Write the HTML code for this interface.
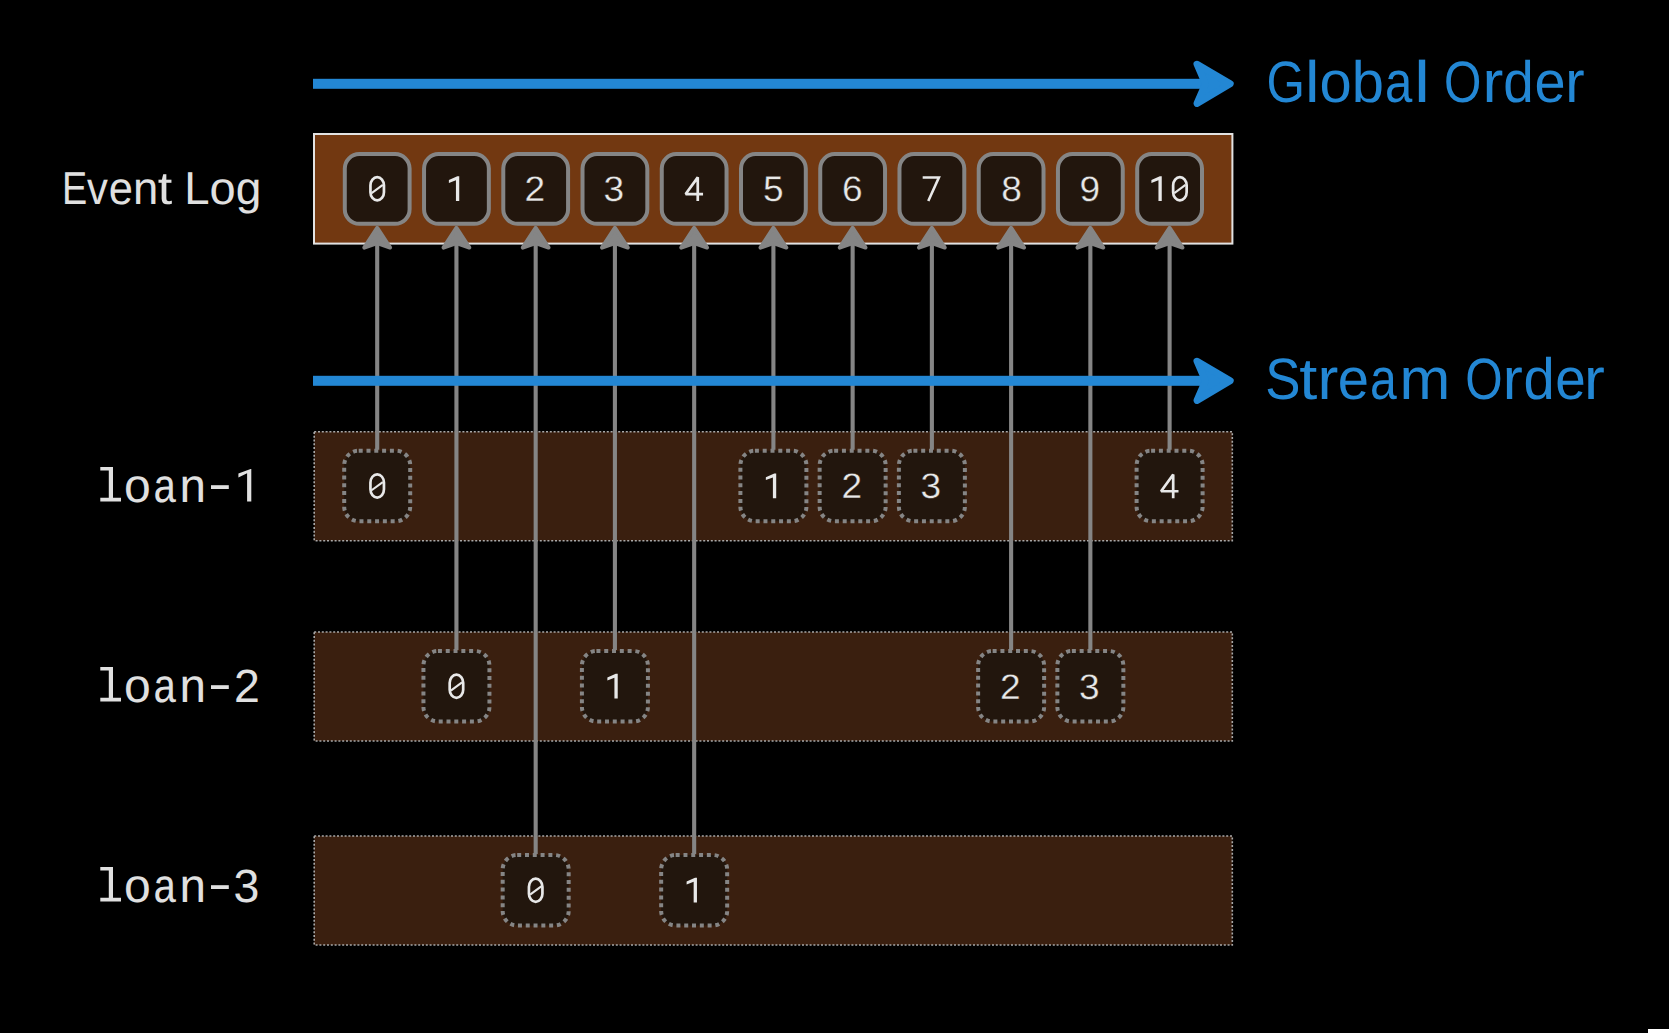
<!DOCTYPE html>
<html><head><meta charset="utf-8"><style>
html,body{margin:0;padding:0;background:#000;width:1669px;height:1033px;overflow:hidden}
svg{display:block}
text{text-rendering:geometricPrecision}
</style></head><body>
<svg width="1669" height="1033" viewBox="0 0 1669 1033">
<rect x="0" y="0" width="1669" height="1033" fill="#000"/>
<rect x="314.2" y="431.7" width="918.1" height="109" fill="#3a1f0f" stroke="#a8a8a8" stroke-width="1.6" stroke-dasharray="2 1.8"/>
<rect x="314.2" y="632.0" width="918.1" height="109" fill="#3a1f0f" stroke="#a8a8a8" stroke-width="1.6" stroke-dasharray="2 1.8"/>
<rect x="314.2" y="836.0" width="918.1" height="109" fill="#3a1f0f" stroke="#a8a8a8" stroke-width="1.6" stroke-dasharray="2 1.8"/>
<rect x="314" y="134" width="918.4" height="109.6" fill="#723811" stroke="#e2e2e2" stroke-width="2"/>
<rect x="344.80" y="154.10" width="64.80" height="69.7" rx="14.5" ry="14.5" fill="#22160d" stroke="#858585" stroke-width="4"/>
<rect x="424.04" y="154.10" width="64.80" height="69.7" rx="14.5" ry="14.5" fill="#22160d" stroke="#858585" stroke-width="4"/>
<rect x="503.28" y="154.10" width="64.80" height="69.7" rx="14.5" ry="14.5" fill="#22160d" stroke="#858585" stroke-width="4"/>
<rect x="582.52" y="154.10" width="64.80" height="69.7" rx="14.5" ry="14.5" fill="#22160d" stroke="#858585" stroke-width="4"/>
<rect x="661.76" y="154.10" width="64.80" height="69.7" rx="14.5" ry="14.5" fill="#22160d" stroke="#858585" stroke-width="4"/>
<rect x="741.00" y="154.10" width="64.80" height="69.7" rx="14.5" ry="14.5" fill="#22160d" stroke="#858585" stroke-width="4"/>
<rect x="820.24" y="154.10" width="64.80" height="69.7" rx="14.5" ry="14.5" fill="#22160d" stroke="#858585" stroke-width="4"/>
<rect x="899.48" y="154.10" width="64.80" height="69.7" rx="14.5" ry="14.5" fill="#22160d" stroke="#858585" stroke-width="4"/>
<rect x="978.72" y="154.10" width="64.80" height="69.7" rx="14.5" ry="14.5" fill="#22160d" stroke="#858585" stroke-width="4"/>
<rect x="1057.96" y="154.10" width="64.80" height="69.7" rx="14.5" ry="14.5" fill="#22160d" stroke="#858585" stroke-width="4"/>
<rect x="1137.20" y="154.10" width="64.80" height="69.7" rx="14.5" ry="14.5" fill="#22160d" stroke="#858585" stroke-width="4"/>
<rect x="344.20" y="450.70" width="66" height="70.5" rx="14.5" ry="14.5" fill="#22160d" stroke="#858585" stroke-width="4" stroke-dasharray="4 3.8"/>
<rect x="423.44" y="651.00" width="66" height="70.5" rx="14.5" ry="14.5" fill="#22160d" stroke="#858585" stroke-width="4" stroke-dasharray="4 3.8"/>
<rect x="502.68" y="855.00" width="66" height="70.5" rx="14.5" ry="14.5" fill="#22160d" stroke="#858585" stroke-width="4" stroke-dasharray="4 3.8"/>
<rect x="581.92" y="651.00" width="66" height="70.5" rx="14.5" ry="14.5" fill="#22160d" stroke="#858585" stroke-width="4" stroke-dasharray="4 3.8"/>
<rect x="661.16" y="855.00" width="66" height="70.5" rx="14.5" ry="14.5" fill="#22160d" stroke="#858585" stroke-width="4" stroke-dasharray="4 3.8"/>
<rect x="740.40" y="450.70" width="66" height="70.5" rx="14.5" ry="14.5" fill="#22160d" stroke="#858585" stroke-width="4" stroke-dasharray="4 3.8"/>
<rect x="819.64" y="450.70" width="66" height="70.5" rx="14.5" ry="14.5" fill="#22160d" stroke="#858585" stroke-width="4" stroke-dasharray="4 3.8"/>
<rect x="898.88" y="450.70" width="66" height="70.5" rx="14.5" ry="14.5" fill="#22160d" stroke="#858585" stroke-width="4" stroke-dasharray="4 3.8"/>
<rect x="978.12" y="651.00" width="66" height="70.5" rx="14.5" ry="14.5" fill="#22160d" stroke="#858585" stroke-width="4" stroke-dasharray="4 3.8"/>
<rect x="1057.36" y="651.00" width="66" height="70.5" rx="14.5" ry="14.5" fill="#22160d" stroke="#858585" stroke-width="4" stroke-dasharray="4 3.8"/>
<rect x="1136.60" y="450.70" width="66" height="70.5" rx="14.5" ry="14.5" fill="#22160d" stroke="#858585" stroke-width="4" stroke-dasharray="4 3.8"/>
<line x1="377.20" y1="449.7" x2="377.20" y2="243" stroke="#858585" stroke-width="4.1"/>
<path d="M377.20 227.9 L390.10 247.6 L377.20 243.2 L364.30 247.6 Z" fill="#858585" stroke="#858585" stroke-width="4" stroke-linejoin="round"/>
<line x1="456.44" y1="650.0" x2="456.44" y2="243" stroke="#858585" stroke-width="4.1"/>
<path d="M456.44 227.9 L469.34 247.6 L456.44 243.2 L443.54 247.6 Z" fill="#858585" stroke="#858585" stroke-width="4" stroke-linejoin="round"/>
<line x1="535.68" y1="854.0" x2="535.68" y2="243" stroke="#858585" stroke-width="4.1"/>
<path d="M535.68 227.9 L548.58 247.6 L535.68 243.2 L522.78 247.6 Z" fill="#858585" stroke="#858585" stroke-width="4" stroke-linejoin="round"/>
<line x1="614.92" y1="650.0" x2="614.92" y2="243" stroke="#858585" stroke-width="4.1"/>
<path d="M614.92 227.9 L627.82 247.6 L614.92 243.2 L602.02 247.6 Z" fill="#858585" stroke="#858585" stroke-width="4" stroke-linejoin="round"/>
<line x1="694.16" y1="854.0" x2="694.16" y2="243" stroke="#858585" stroke-width="4.1"/>
<path d="M694.16 227.9 L707.06 247.6 L694.16 243.2 L681.26 247.6 Z" fill="#858585" stroke="#858585" stroke-width="4" stroke-linejoin="round"/>
<line x1="773.40" y1="449.7" x2="773.40" y2="243" stroke="#858585" stroke-width="4.1"/>
<path d="M773.40 227.9 L786.30 247.6 L773.40 243.2 L760.50 247.6 Z" fill="#858585" stroke="#858585" stroke-width="4" stroke-linejoin="round"/>
<line x1="852.64" y1="449.7" x2="852.64" y2="243" stroke="#858585" stroke-width="4.1"/>
<path d="M852.64 227.9 L865.54 247.6 L852.64 243.2 L839.74 247.6 Z" fill="#858585" stroke="#858585" stroke-width="4" stroke-linejoin="round"/>
<line x1="931.88" y1="449.7" x2="931.88" y2="243" stroke="#858585" stroke-width="4.1"/>
<path d="M931.88 227.9 L944.78 247.6 L931.88 243.2 L918.98 247.6 Z" fill="#858585" stroke="#858585" stroke-width="4" stroke-linejoin="round"/>
<line x1="1011.12" y1="650.0" x2="1011.12" y2="243" stroke="#858585" stroke-width="4.1"/>
<path d="M1011.12 227.9 L1024.02 247.6 L1011.12 243.2 L998.22 247.6 Z" fill="#858585" stroke="#858585" stroke-width="4" stroke-linejoin="round"/>
<line x1="1090.36" y1="650.0" x2="1090.36" y2="243" stroke="#858585" stroke-width="4.1"/>
<path d="M1090.36 227.9 L1103.26 247.6 L1090.36 243.2 L1077.46 247.6 Z" fill="#858585" stroke="#858585" stroke-width="4" stroke-linejoin="round"/>
<line x1="1169.60" y1="449.7" x2="1169.60" y2="243" stroke="#858585" stroke-width="4.1"/>
<path d="M1169.60 227.9 L1182.50 247.6 L1169.60 243.2 L1156.70 247.6 Z" fill="#858585" stroke="#858585" stroke-width="4" stroke-linejoin="round"/>
<rect x="313" y="78.8" width="895" height="10" fill="#2387d4"/>
<path d="M1197 64.2 L1230.2 83.8 L1197 103.4 L1205.5 83.8 Z" fill="#2387d4" stroke="#2387d4" stroke-width="7" stroke-linejoin="round"/>
<rect x="313" y="375.8" width="895" height="10" fill="#2387d4"/>
<path d="M1197 361.2 L1230.2 380.8 L1197 400.4 L1205.5 380.8 Z" fill="#2387d4" stroke="#2387d4" stroke-width="7" stroke-linejoin="round"/>
<text transform="translate(1266.40,102.2) scale(0.8240,0.975)" x="0" y="0" style="font-family:'Liberation Sans',sans-serif" font-size="60" fill="#2387d4">G</text>
<text transform="translate(1305.00,102.2) scale(1.0882,0.975)" x="0" y="0" style="font-family:'Liberation Sans',sans-serif" font-size="60" fill="#2387d4">l</text>
<text transform="translate(1319.42,102.2) scale(0.9655,0.975)" x="0" y="0" style="font-family:'Liberation Sans',sans-serif" font-size="60" fill="#2387d4">o</text>
<text transform="translate(1351.84,102.2) scale(0.9646,0.975)" x="0" y="0" style="font-family:'Liberation Sans',sans-serif" font-size="60" fill="#2387d4">b</text>
<text transform="translate(1384.94,102.2) scale(0.8182,0.975)" x="0" y="0" style="font-family:'Liberation Sans',sans-serif" font-size="60" fill="#2387d4">a</text>
<text transform="translate(1413.95,102.2) scale(1.2008,0.975)" x="0" y="0" style="font-family:'Liberation Sans',sans-serif" font-size="60" fill="#2387d4">l</text>
<text transform="translate(1443.94,102.2) scale(0.8004,0.975)" x="0" y="0" style="font-family:'Liberation Sans',sans-serif" font-size="60" fill="#2387d4">O</text>
<text transform="translate(1482.41,102.2) scale(1.0421,0.975)" x="0" y="0" style="font-family:'Liberation Sans',sans-serif" font-size="60" fill="#2387d4">r</text>
<text transform="translate(1503.24,102.2) scale(0.9135,0.975)" x="0" y="0" style="font-family:'Liberation Sans',sans-serif" font-size="60" fill="#2387d4">d</text>
<text transform="translate(1534.46,102.2) scale(0.9316,0.975)" x="0" y="0" style="font-family:'Liberation Sans',sans-serif" font-size="60" fill="#2387d4">e</text>
<text transform="translate(1565.21,102.2) scale(0.9686,0.975)" x="0" y="0" style="font-family:'Liberation Sans',sans-serif" font-size="60" fill="#2387d4">r</text>
<text transform="translate(1265.16,399.2) scale(0.8805,0.975)" x="0" y="0" style="font-family:'Liberation Sans',sans-serif" font-size="60" fill="#2387d4">S</text>
<text transform="translate(1299.27,399.2) scale(1.0823,0.975)" x="0" y="0" style="font-family:'Liberation Sans',sans-serif" font-size="60" fill="#2387d4">t</text>
<text transform="translate(1317.61,399.2) scale(1.0421,0.975)" x="0" y="0" style="font-family:'Liberation Sans',sans-serif" font-size="60" fill="#2387d4">r</text>
<text transform="translate(1337.75,399.2) scale(0.9352,0.975)" x="0" y="0" style="font-family:'Liberation Sans',sans-serif" font-size="60" fill="#2387d4">e</text>
<text transform="translate(1369.88,399.2) scale(0.8021,0.975)" x="0" y="0" style="font-family:'Liberation Sans',sans-serif" font-size="60" fill="#2387d4">a</text>
<text transform="translate(1399.58,399.2) scale(1.0167,0.975)" x="0" y="0" style="font-family:'Liberation Sans',sans-serif" font-size="60" fill="#2387d4">m</text>
<text transform="translate(1465.24,399.2) scale(0.8004,0.975)" x="0" y="0" style="font-family:'Liberation Sans',sans-serif" font-size="60" fill="#2387d4">O</text>
<text transform="translate(1502.87,399.2) scale(1.0020,0.975)" x="0" y="0" style="font-family:'Liberation Sans',sans-serif" font-size="60" fill="#2387d4">r</text>
<text transform="translate(1523.39,399.2) scale(0.9357,0.975)" x="0" y="0" style="font-family:'Liberation Sans',sans-serif" font-size="60" fill="#2387d4">d</text>
<text transform="translate(1555.31,399.2) scale(0.9139,0.975)" x="0" y="0" style="font-family:'Liberation Sans',sans-serif" font-size="60" fill="#2387d4">e</text>
<text transform="translate(1584.11,399.2) scale(1.0421,0.975)" x="0" y="0" style="font-family:'Liberation Sans',sans-serif" font-size="60" fill="#2387d4">r</text>
<text transform="translate(61.94,204.2) scale(0.8214,1.0)" x="0" y="0" style="font-family:'Liberation Sans',sans-serif" font-size="46" fill="#e0e0e0">E</text>
<text transform="translate(86.93,204.2) scale(0.9066,1.0)" x="0" y="0" style="font-family:'Liberation Sans',sans-serif" font-size="46" fill="#e0e0e0">v</text>
<text transform="translate(108.86,204.2) scale(0.9450,1.0)" x="0" y="0" style="font-family:'Liberation Sans',sans-serif" font-size="46" fill="#e0e0e0">e</text>
<text transform="translate(132.95,204.2) scale(0.9871,1.0)" x="0" y="0" style="font-family:'Liberation Sans',sans-serif" font-size="46" fill="#e0e0e0">n</text>
<text transform="translate(157.66,204.2) scale(1.1316,1.0)" x="0" y="0" style="font-family:'Liberation Sans',sans-serif" font-size="46" fill="#e0e0e0">t</text>
<text transform="translate(184.33,204.2) scale(0.9878,1.0)" x="0" y="0" style="font-family:'Liberation Sans',sans-serif" font-size="46" fill="#e0e0e0">L</text>
<text transform="translate(209.53,204.2) scale(1.0219,1.0)" x="0" y="0" style="font-family:'Liberation Sans',sans-serif" font-size="46" fill="#e0e0e0">o</text>
<text transform="translate(235.86,204.2) scale(1.0024,1.0)" x="0" y="0" style="font-family:'Liberation Sans',sans-serif" font-size="46" fill="#e0e0e0">g</text>
<path d="M100.3 467.10 L113.0 467.10 L113.0 497.80 L121.0 497.80 L121.0 501.60 L100.3 501.60 L100.3 497.80 L108.8 497.80 L108.8 470.60 L100.3 470.60 Z" fill="#e0e0e0"/>
<text transform="translate(137.45,501.60) scale(1.0,1)" x="0" y="0" style="font-family:'Liberation Mono',monospace" font-size="48" fill="#e0e0e0" text-anchor="middle">o</text>
<text transform="translate(164.95,501.60) scale(0.85,1)" x="0" y="0" style="font-family:'Liberation Mono',monospace" font-size="48" fill="#e0e0e0" text-anchor="middle">a</text>
<text transform="translate(192.70,501.60) scale(0.99,1)" x="0" y="0" style="font-family:'Liberation Mono',monospace" font-size="48" fill="#e0e0e0" text-anchor="middle">n</text>
<rect x="211.0" y="485.20" width="17.8" height="3.8" fill="#e0e0e0"/>
<path d="M251.3 468.90 L251.3 501.60 L247.1 501.60 L247.1 473.30 L238.4 477.40 L238.4 473.40 L250.6 468.90 Z" fill="#e0e0e0"/>
<path d="M100.3 667.10 L113.0 667.10 L113.0 697.80 L121.0 697.80 L121.0 701.60 L100.3 701.60 L100.3 697.80 L108.8 697.80 L108.8 670.60 L100.3 670.60 Z" fill="#e0e0e0"/>
<text transform="translate(137.45,701.60) scale(1.0,1)" x="0" y="0" style="font-family:'Liberation Mono',monospace" font-size="48" fill="#e0e0e0" text-anchor="middle">o</text>
<text transform="translate(164.95,701.60) scale(0.85,1)" x="0" y="0" style="font-family:'Liberation Mono',monospace" font-size="48" fill="#e0e0e0" text-anchor="middle">a</text>
<text transform="translate(192.70,701.60) scale(0.99,1)" x="0" y="0" style="font-family:'Liberation Mono',monospace" font-size="48" fill="#e0e0e0" text-anchor="middle">n</text>
<rect x="211.0" y="685.20" width="17.8" height="3.8" fill="#e0e0e0"/>
<text transform="translate(246.95,701.60) scale(1.0,1.0)" x="0" y="0" style="font-family:'Liberation Sans',sans-serif" font-size="46.5" fill="#e0e0e0" text-anchor="middle">2</text>
<path d="M100.3 867.10 L113.0 867.10 L113.0 897.80 L121.0 897.80 L121.0 901.60 L100.3 901.60 L100.3 897.80 L108.8 897.80 L108.8 870.60 L100.3 870.60 Z" fill="#e0e0e0"/>
<text transform="translate(137.45,901.60) scale(1.0,1)" x="0" y="0" style="font-family:'Liberation Mono',monospace" font-size="48" fill="#e0e0e0" text-anchor="middle">o</text>
<text transform="translate(164.95,901.60) scale(0.85,1)" x="0" y="0" style="font-family:'Liberation Mono',monospace" font-size="48" fill="#e0e0e0" text-anchor="middle">a</text>
<text transform="translate(192.70,901.60) scale(0.99,1)" x="0" y="0" style="font-family:'Liberation Mono',monospace" font-size="48" fill="#e0e0e0" text-anchor="middle">n</text>
<rect x="211.0" y="885.20" width="17.8" height="3.8" fill="#e0e0e0"/>
<text transform="translate(246.45,901.60) scale(1.0,1.0)" x="0" y="0" style="font-family:'Liberation Sans',sans-serif" font-size="46.5" fill="#e0e0e0" text-anchor="middle">3</text>
<path d="M370.45 185.35 A6.75 8.2 0 0 1 383.95 185.35 L383.95 192.15 A6.75 8.2 0 0 1 370.45 192.15 Z" fill="none" stroke="#e8e8e8" stroke-width="2.7"/>
<line x1="371.60" y1="193.05" x2="382.80" y2="184.85" stroke="#e8e8e8" stroke-width="2.1"/>
<path d="M459.24 176.30 L459.24 201.05 L455.94 201.05 L455.94 180.35 L448.89 182.90 L448.89 180.00 L457.29 176.30 Z" fill="#e8e8e8"/>
<text transform="translate(534.83,201.05) scale(1.03,0.985)" x="0" y="0" style="font-family:'Liberation Sans',sans-serif" font-size="36" fill="#e8e8e8" stroke="#22160d" stroke-width="0.35" text-anchor="middle">2</text>
<text transform="translate(613.82,201.05) scale(1.03,0.985)" x="0" y="0" style="font-family:'Liberation Sans',sans-serif" font-size="36" fill="#e8e8e8" stroke="#22160d" stroke-width="0.35" text-anchor="middle">3</text>
<path d="M697.76 201.05 L697.76 177.35 L685.66 194.05 L703.06 194.05" fill="none" stroke="#e8e8e8" stroke-width="2.7" stroke-linejoin="bevel"/>
<text transform="translate(773.30,201.05) scale(1.03,0.985)" x="0" y="0" style="font-family:'Liberation Sans',sans-serif" font-size="36" fill="#e8e8e8" stroke="#22160d" stroke-width="0.35" text-anchor="middle">5</text>
<text transform="translate(852.34,201.05) scale(1.03,0.985)" x="0" y="0" style="font-family:'Liberation Sans',sans-serif" font-size="36" fill="#e8e8e8" stroke="#22160d" stroke-width="0.35" text-anchor="middle">6</text>
<path d="M922.68 177.45 L938.88 177.45 L928.28 201.05" fill="none" stroke="#e8e8e8" stroke-width="2.6" stroke-linejoin="miter"/>
<text transform="translate(1011.47,201.05) scale(1.03,0.985)" x="0" y="0" style="font-family:'Liberation Sans',sans-serif" font-size="36" fill="#e8e8e8" stroke="#22160d" stroke-width="0.35" text-anchor="middle">8</text>
<text transform="translate(1089.91,201.05) scale(1.03,0.985)" x="0" y="0" style="font-family:'Liberation Sans',sans-serif" font-size="36" fill="#e8e8e8" stroke="#22160d" stroke-width="0.35" text-anchor="middle">9</text>
<path d="M1161.75 176.30 L1161.75 201.05 L1158.45 201.05 L1158.45 180.35 L1151.40 182.90 L1151.40 180.00 L1159.80 176.30 Z" fill="#e8e8e8"/>
<path d="M1173.15 185.35 A6.75 8.2 0 0 1 1186.65 185.35 L1186.65 192.15 A6.75 8.2 0 0 1 1173.15 192.15 Z" fill="none" stroke="#e8e8e8" stroke-width="2.7"/>
<line x1="1174.30" y1="193.05" x2="1185.50" y2="184.85" stroke="#e8e8e8" stroke-width="2.1"/>
<path d="M370.45 482.55 A6.75 8.2 0 0 1 383.95 482.55 L383.95 489.35 A6.75 8.2 0 0 1 370.45 489.35 Z" fill="none" stroke="#e8e8e8" stroke-width="2.7"/>
<line x1="371.60" y1="490.25" x2="382.80" y2="482.05" stroke="#e8e8e8" stroke-width="2.1"/>
<path d="M449.69 682.85 A6.75 8.2 0 0 1 463.19 682.85 L463.19 689.65 A6.75 8.2 0 0 1 449.69 689.65 Z" fill="none" stroke="#e8e8e8" stroke-width="2.7"/>
<line x1="450.84" y1="690.55" x2="462.04" y2="682.35" stroke="#e8e8e8" stroke-width="2.1"/>
<path d="M528.93 886.85 A6.75 8.2 0 0 1 542.43 886.85 L542.43 893.65 A6.75 8.2 0 0 1 528.93 893.65 Z" fill="none" stroke="#e8e8e8" stroke-width="2.7"/>
<line x1="530.08" y1="894.55" x2="541.28" y2="886.35" stroke="#e8e8e8" stroke-width="2.1"/>
<path d="M617.72 673.80 L617.72 698.55 L614.42 698.55 L614.42 677.85 L607.37 680.40 L607.37 677.50 L615.77 673.80 Z" fill="#e8e8e8"/>
<path d="M696.96 877.80 L696.96 902.55 L693.66 902.55 L693.66 881.85 L686.61 884.40 L686.61 881.50 L695.01 877.80 Z" fill="#e8e8e8"/>
<path d="M776.20 473.50 L776.20 498.25 L772.90 498.25 L772.90 477.55 L765.85 480.10 L765.85 477.20 L774.25 473.50 Z" fill="#e8e8e8"/>
<text transform="translate(851.79,498.25) scale(1.03,0.985)" x="0" y="0" style="font-family:'Liberation Sans',sans-serif" font-size="36" fill="#e8e8e8" stroke="#22160d" stroke-width="0.35" text-anchor="middle">2</text>
<text transform="translate(930.78,498.25) scale(1.03,0.985)" x="0" y="0" style="font-family:'Liberation Sans',sans-serif" font-size="36" fill="#e8e8e8" stroke="#22160d" stroke-width="0.35" text-anchor="middle">3</text>
<text transform="translate(1010.27,698.55) scale(1.03,0.985)" x="0" y="0" style="font-family:'Liberation Sans',sans-serif" font-size="36" fill="#e8e8e8" stroke="#22160d" stroke-width="0.35" text-anchor="middle">2</text>
<text transform="translate(1089.26,698.55) scale(1.03,0.985)" x="0" y="0" style="font-family:'Liberation Sans',sans-serif" font-size="36" fill="#e8e8e8" stroke="#22160d" stroke-width="0.35" text-anchor="middle">3</text>
<path d="M1173.20 498.25 L1173.20 474.55 L1161.10 491.25 L1178.50 491.25" fill="none" stroke="#e8e8e8" stroke-width="2.7" stroke-linejoin="bevel"/>
<rect x="1648" y="1029" width="21" height="4" fill="#fff"/>
</svg>
</body></html>
